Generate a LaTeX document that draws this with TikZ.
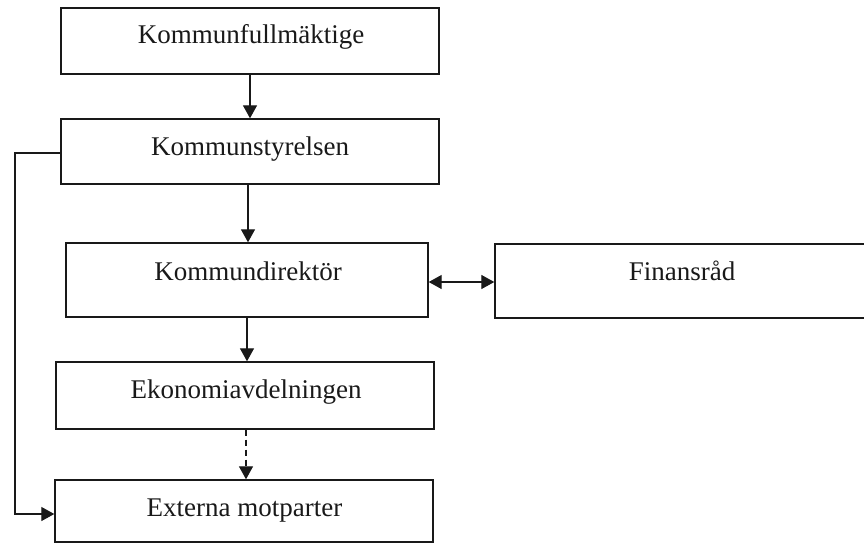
\documentclass[tikz,border=0pt]{standalone}
\usepackage{fontspec}
\setmainfont{Liberation Serif}
\usetikzlibrary{arrows.meta}
\begin{document}
\begin{tikzpicture}[x=1pt,y=-1pt,
  boxnode/.style={draw=black!90, line width=1.4pt, rectangle, inner sep=0pt},
  lbl/.style={anchor=base, inner sep=0pt, font=\fontsize{27}{30}\selectfont, text=black!90},
  conn/.style={draw=black!90, line width=1.3pt, -{Triangle[length=13pt,width=14pt]}},
  dconn/.style={conn, dash pattern=on 6pt off 4pt},
  biconn/.style={draw=black!90, line width=1.3pt, {Triangle[length=13pt,width=14pt]}-{Triangle[length=13pt,width=14pt]}}
]
\useasboundingbox (0,0) rectangle (864,546);
% boxes
\node[boxnode, minimum width=378pt, minimum height=66pt] (b1) at (250,41) {};
\node[boxnode, minimum width=378pt, minimum height=65pt] (b2) at (250,151.5) {};
\node[boxnode, minimum width=362pt, minimum height=74pt] (b3) at (247,280) {};
\node[boxnode, minimum width=378pt, minimum height=67pt] (b4) at (245,395.5) {};
\node[boxnode, minimum width=378pt, minimum height=62pt] (b5) at (244,511) {};
\node[boxnode, minimum width=374pt, minimum height=74pt] (fin) at (682,281) {};
% labels
\node[lbl] (t1) at (251,43) {Kommunfullmäktige};
\node[lbl] (t2) at (250,155) {Kommunstyrelsen};
\node[lbl] (t3) at (248,280) {Kommundirektör};
\node[lbl] (t4) at (246,398) {Ekonomiavdelningen};
\node[lbl] (t5) at (244.5,516) {Externa motparter};
\node[lbl] (t6) at (682,280) {Finansråd};
% connectors
\draw[conn] (b1.south) -- (b2.north);
\draw[conn] (b2.south -| 248,0) -- (b3.north -| 248,0);
\draw[conn] (b3.south) -- (b3.south |- b4.north);
\draw[dconn] (b4.south -| 246,0) -- (b5.north -| 246,0);
\draw[biconn] (b3.east |- 0,282) -- (fin.west |- 0,282);
\coordinate (lft) at (15,300);
\draw[conn] (b2.west |- 0,153) -- (lft |- 0,153) -- (lft |- 0,514) -- (b5.west |- 0,514);
\end{tikzpicture}
\end{document}
